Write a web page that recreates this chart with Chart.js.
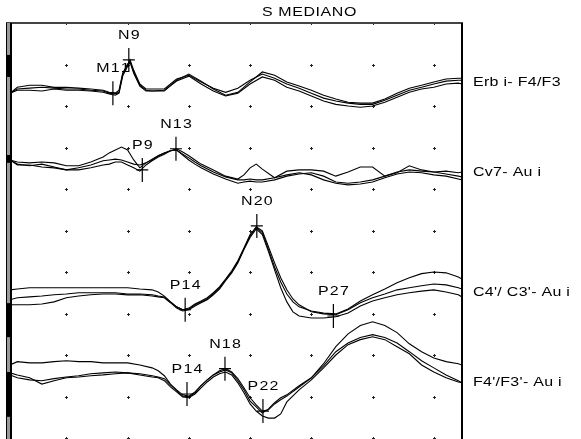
<!DOCTYPE html>
<html><head><meta charset="utf-8">
<script src="https://cdn.jsdelivr.net/npm/chart.js@4.4.0/dist/chart.umd.min.js"></script>
<style>html,body{margin:0;padding:0;background:#fff;overflow:hidden}canvas{display:block}</style>
</head><body><canvas id="c" width="581" height="439"></canvas>
<script>
// ---------- DATA (time in ms, amplitude in units: 10 units = 1 grid division) ----------
const chartTitle = "S MEDIANO";
const traceNames = ["Erb i- F4/F3", "Cv7- Au i", "C4'/ C3'- Au i", "F4'/F3'- Au i"];
const traceBaselines = [83.1, 67.0, 34.0, 15.7];

const times1 = [0.4,1,2,3,4,5,6,7,8,8.5,9,9.3,9.6,10,10.2,10.5,11,11.5,12,13,14,15,16,17,18,19,20,21,22,23,24,25,26,27,28,29,30,31,32,33,34,35,36,37,37.3];
const erbA = [0,1.0,1.2,1.4,1.2,1.0,1.0,0.7,0.5, 0,-0.2,0.2,4.6,6.8,8.0,5.5,2.2,1.0, 1.0,1.0,3.4,4.3,2.7,1.2,0.2,1.2,3.1,4.6,3.6,2.2,1.2,0,-1.2,-1.9,-2.4,-2.7,-2.7,-1.7,-0.5,0.7,1.4,2.2,2.9,3.1, 3.1];
const erbB = [0,1.4,1.9,1.9,1.4,1.4,1.2,1.0,0.7, 0.2,0,0.7,4.8,7.0,7.7,5.1,1.9,0.7, 0.5,0.5,3.1,4.6,2.9,1.0,-0.5,0.2,2.7,5.1,4.3,2.7,1.7,0.7,-0.5,-1.4,-2.2,-2.4,-2.4,-1.4,0,1.2,1.9,2.7,3.4,3.6, 3.6];
const erbC = [0,0.7,0.7,0.5,1.0,0.7,0.7,0.5,0.2, -0.2,-0.5,0,4.1,6.5,7.5,4.8,1.7,0.5, 0.5,0.7,2.9,4.1,2.2,0.5,-0.7,0,2.2,3.9,3.1,1.4,0.5,-0.7,-1.9,-2.7,-3.1,-3.4,-3.1,-2.2,-1.0,0.2,1.0,1.4,2.2,2.4, 2.2];

const times2 = [0.4,1,2,3,4,5,6,7,8,8.5,9,9.5,10,10.5,11,11.5,12,12.5,13,13.5,14,14.5,15,15.5,16,17,18,19,19.5,20,20.5,21,22,23,24,25,26,27,28,29,30,31,32,33,34,35,36,37,37.3];
const cvA = [0,-0.5,-0.7,-0.5,-0.7,-1.4,-1.4,-0.5,0.7, 1.7,2.4,3.1,2.4,0,-1.9,-0.7,0,1.0,1.7,2.2,2.7,1.9,1.0,0,-1.0, -2.4,-3.9,-4.6, -3.6,-1.9,-1.0,-2.2, -4.3,-2.7,-2.4,-2.4,-2.7,-3.9,-2.9,-1.7,-1.7,-3.9,-3.1,-1.4,-2.4,-2.9,-2.7,-3.1, -2.9];
const cvB = [0,-1.0,-1.4,-1.0,-1.7,-2.4,-1.9,-1.2,-0.2, 0,0.2,0,-0.5,-1.0,-1.2,-0.7,0.2,1.0,1.7,2.2,2.4,1.4,0.5,-0.5,-1.4, -2.9,-4.1,-4.8, -4.8,-4.6,-4.8,-4.8, -4.3,-3.6,-3.1,-3.6,-4.8,-5.6,-6.0,-5.8,-5.3,-4.3,-3.4,-2.9,-3.1,-3.6,-3.9,-4.6, -4.8];
const cvC = [0,-1.2,-1.2,-1.7,-1.9,-2.4,-2.4,-1.9,-1.2, -1.0,-0.5,-0.5,-1.2,-1.9,-2.7,-1.2,-0.2,0.7,1.4,2.2,2.4,1.2,0,-1.0,-1.9, -3.4,-4.6,-5.6, -5.3,-5.1,-5.3,-5.3, -4.8,-3.9,-3.4,-3.1,-3.9,-5.3,-5.6,-5.3,-4.8,-3.9,-2.9,-2.4,-2.7,-2.9,-3.4,-3.9, -4.1];

const times3 = [0.4,1,2,3,4,5,6,7,8,9,10,11,12,12.5,13,13.5,14,14.5,15,15.5,16,16.5,17,17.5,18,18.5,19,19.5,20,20.5,21,21.5,22,22.5,23,23.5,24,25,26,27,28,29,30,31,32,33,34,35,36,37,37.3];
const c4A = [-0.7,-0.2,0,0.2,0.5,0.7,1.0,1.0,1.0,1.0,0.7,0.7,0.5, 0.2,0,-1.2,-2.4,-3.1,-2.9,-1.9,-1.2,-0.5,0.7,2.2,4.1,6.0,8.5,11.6,14.7,16.9,15.9,12.1,8.2,4.6,1.7,-0.5, -1.9,-3.6,-4.1,-4.3,-3.1,-1.4,-0.2,0.7,1.7,2.2,2.7,3.1,2.9,2.2, 1.9];
const c4B = [1.7,1.9,2.2,2.2,2.2,2.2,2.2,2.2,2.2,2.2,2.2,1.9,1.7, 1.2,0.2,-1.2,-2.4,-3.1,-2.7,-1.7,-1.0,-0.2,1.0,2.4,4.3,6.3,8.7,11.8,15.0,16.7,15.5,11.4,7.2,3.6,0.7,-1.2, -2.4,-3.4,-3.9,-4.1,-2.9,-1.0,0.5,1.9,3.4,4.6,5.6,6.0,5.8,4.8, 4.3];
const c4C = [-1.9,-1.9,-1.9,-1.7,-1.2,-0.2,0.2,0.5,0.7,0.7,0.5,0.5,0.2, 0,-0.2,-1.4,-2.7,-3.4,-3.1,-2.2,-1.4,-0.7,0.5,1.9,3.9,5.8,8.2,11.4,14.3,16.4,15.0,10.9,6.5,2.2,-1.2,-3.6, -4.6,-5.1,-5.1,-4.8,-3.9,-2.2,-1.0,-0.2,0.5,1.0,1.4,1.7,1.2,0.5, 0];

const times4 = [0.4,1,2,3,4,5,6,7,8,9,10,11,12,12.5,13,13.5,14,14.5,15,15.5,16,16.5,17,17.5,18,18.5,19,19.5,20,20.5,21,21.5,22,22.5,23,24,25,26,27,28,29,30,31,32,33,34,35,36,37,37.3];
const f4A = [1.9,2.7,2.4,2.4,2.7,2.9,2.7,2.7,2.4,2.4,2.4,1.9,1.2, 0.5,-0.7,-2.7,-4.1,-5.3,-5.6,-4.6,-3.1,-1.7,-0.5,0.5,1.0,0.2,-1.4,-3.6,-6.0,-7.7,-9.2,-8.9,-7.5,-6.5, -5.6, -3.4,-1.2,2.2,6.3,9.4,11.4,12.3,11.4,9.7,7.0,5.1,3.6,2.7,2.2, 1.9];
const f4B = [0,-0.5,-1.2,-2.7,-1.9,-1.2,-1.0,-0.7,-0.5,-0.2,0,-0.2,-0.7, -1.0,-1.4,-2.9,-4.3,-5.6,-5.8,-4.8,-3.1,-1.7,-0.5,0.2,0.7,0,-1.9,-4.1,-6.8,-8.2,-9.7,-8.7,-7.2,-6.0, -5.3, -3.1,-1.2,1.7,5.1,7.2,8.5,9.2,8.5,7.2,5.1,2.9,1.2,-0.5,-1.9, -2.4];
const f4C = [-0.5,-1.2,-1.7,-1.9,-1.4,-1.0,-0.7,-0.2,0,0.2,0,-0.5,-1.0, -1.2,-1.9,-3.4,-4.6,-5.8,-6.0,-5.1,-3.6,-2.2,-1.0,-0.2,0.2,-0.5,-2.4,-4.8,-7.5,-9.2,-10.4,-10.9,-10.9,-9.9, -7.0, -4.1,-1.7,1.2,4.3,6.8,8.0,8.7,8.0,6.3,4.6,1.9,0.2,-1.2,-2.2, -2.4];

// peak markers
const peakNames  = ["N9", "M11", "P9", "N13", "N20", "P14", "P27", "N18", "P14", "P22"];
const peakTrace  = [0, 0, 1, 1, 2, 2, 2, 3, 3, 3];
const peakTimes  = [10.1, 8.8, 11.2, 13.95, 20.55, 14.7, 26.8, 17.95, 14.85, 21.05];
const peakValues = [8.0, 0, -2.4, 2.7, 17.1, -3.1, -4.6, 1.0, -5.1, -9.2];

// grid ticks (dots)
const gridTimes = [5, 10, 15, 20, 25, 30, 35];
const gridLevels = [0, 10, 20, 30, 40, 50, 60, 70, 80, 90, 100];

// ---------- LAYOUT / STYLE ----------
const layoutCfg = {
  labelLevels: [2.4, -3.1, 1.0, -2.4],
  calBars: [[87, 92.3], [66.3, 68.2], [24.3, 32.5], [5.1, 15.9]],
  font: "12px 'Liberation Sans', Arial, sans-serif",
  stretch: 1.33
};

const traceTimes = [times1, times2, times3, times4];
const traceSweeps = [[erbA, erbB, erbC], [cvA, cvB, cvC], [c4A, c4B, c4C], [f4A, f4B, f4C]];

const datasets = [];
traceSweeps.forEach((sweeps, i) => {
  sweeps.forEach((vals) => {
    datasets.push({
      data: vals.map((v, k) => ({ x: traceTimes[i][k], y: traceBaselines[i] + v })),
      borderColor: '#000',
      borderWidth: 1.1,
      pointRadius: 0,
      tension: 0,
      fill: false
    });
  });
});

// draws horizontally stretched text with extra spacing
function drawSpaced(ctx, text, x, y, spacing, align) {
  const sx = layoutCfg.stretch;
  const chars = Array.from(text);
  const widths = chars.map(c => ctx.measureText(c).width * sx);
  const total = widths.reduce((a, b) => a + b, 0) + spacing * (chars.length - 1);
  let cx = align === 'center' ? x - total / 2 : x;
  ctx.textAlign = 'left';
  chars.forEach((c, i) => {
    ctx.save();
    ctx.translate(cx, y);
    ctx.scale(sx, 1);
    ctx.fillText(c, 0, 0);
    ctx.restore();
    cx += widths[i] + spacing;
  });
}

const decoPlugin = {
  id: 'deco',
  beforeDatasetsDraw(chart) {
    const { ctx, scales: { x, y } } = chart;
    ctx.save();
    ctx.fillStyle = '#222';
    gridTimes.forEach(t => {
      const px = Math.round(x.getPixelForValue(t));
      gridLevels.forEach(l => {
        const py = Math.round(y.getPixelForValue(l));
        ctx.fillRect(px - 1, py, 3, 1);
        ctx.fillRect(px, py - 1, 1, 3);
      });
    });
    ctx.restore();
  },
  afterDatasetsDraw(chart) {
    const { ctx, chartArea: a, scales: { x, y } } = chart;
    const H = chart.height;
    ctx.save();
    ctx.fillStyle = '#444';
    ctx.fillRect(a.left - 4, a.top - 1, a.right - a.left + 5, 2);
    ctx.fillStyle = '#000';
    ctx.fillRect(a.right - 1, a.top, 2, H - a.top);
    ctx.fillStyle = '#000';
    ctx.fillRect(a.left - 4, a.top, 1, H - a.top);
    ctx.fillStyle = '#9a9a9a';
    ctx.fillRect(a.left - 3, a.top, 3, H - a.top);
    ctx.fillStyle = '#000';
    ctx.fillRect(a.left, a.top, 2, H - a.top);
    layoutCfg.calBars.forEach(([lo, hi]) => {
      const y1 = y.getPixelForValue(hi), y2 = y.getPixelForValue(lo);
      ctx.fillRect(a.left - 3, y1, 3, y2 - y1);
    });

    ctx.font = layoutCfg.font;
    ctx.fillStyle = '#000';
    ctx.textBaseline = 'middle';
    drawSpaced(ctx, chartTitle, a.left + (a.right - a.left) * 0.662, 13, 0.6, 'center');
    traceNames.forEach((n, i) => {
      const py = y.getPixelForValue(traceBaselines[i] + layoutCfg.labelLevels[i]);
      drawSpaced(ctx, n, a.right + 11, py, 0.3, 'left');
    });
    ctx.strokeStyle = '#000';
    ctx.lineWidth = 1.2;
    peakNames.forEach((n, i) => {
      const px = x.getPixelForValue(peakTimes[i]);
      const py = y.getPixelForValue(traceBaselines[peakTrace[i]] + peakValues[i]);
      ctx.beginPath();
      ctx.moveTo(px, py - 12); ctx.lineTo(px, py + 12);
      ctx.moveTo(px - 6, py); ctx.lineTo(px + 6, py);
      ctx.stroke();
      drawSpaced(ctx, n, px, py - 24, 1.2, 'center');
    });
    ctx.restore();
  }
};

new Chart(document.getElementById('c').getContext('2d'), {
  type: 'line',
  data: { datasets },
  options: {
    responsive: false,
    animation: false,
    events: [],
    layout: { padding: { left: 10, right: 119, top: 23, bottom: 1 } },
    scales: {
      x: { type: 'linear', min: 0.4, max: 37.3, display: false },
      y: { type: 'linear', min: 0, max: 100, display: false }
    },
    plugins: { legend: { display: false }, tooltip: { enabled: false }, title: { display: false } }
  },
  plugins: [decoPlugin]
});
</script>
</body></html>
